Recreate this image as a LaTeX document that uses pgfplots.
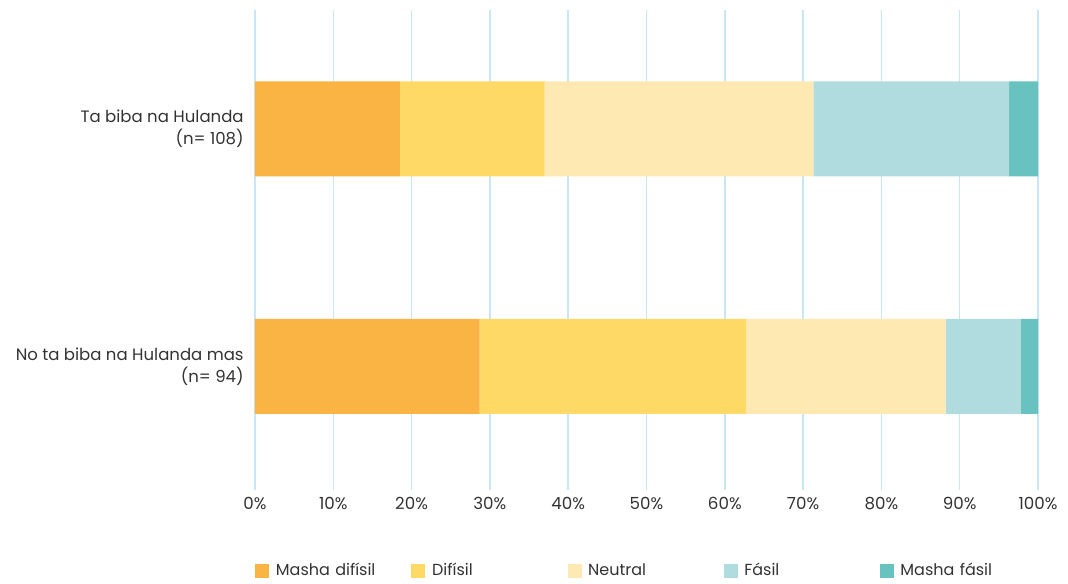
\documentclass[border=0pt]{standalone}
\usepackage{pgfplots}
\pgfplotsset{compat=1.18}
\usepackage{fontspec}
\setmainfont{Poppins}
\definecolor{c1}{HTML}{F9B444}
\definecolor{c2}{HTML}{FFD966}
\definecolor{c3}{HTML}{FFE9B3}
\definecolor{c4}{HTML}{B0DCE0}
\definecolor{c5}{HTML}{68C2C0}
\definecolor{gridc}{HTML}{C8E6F6}
\definecolor{txt}{HTML}{333333}

\begin{document}
\begin{tikzpicture}
\begin{axis}[
    name=ax,
    xbar stacked,
    bar width=71.25pt,
    scale only axis,
    width=587.25pt, height=360pt,
    xmin=0, xmax=100,
    ymin=-0.52, ymax=1.5,
    xtick={0,10,...,100},
    ytick={0,1},
    yticklabels={{No ta biba na Hulanda mas\\(n= 94)},{Ta biba na Hulanda\\(n= 108)}},
    xticklabel={\pgfmathprintnumber{\tick}\%},
    /pgf/number format/assume math mode=true,
    axis line style={draw=none},
    major tick length=0pt,
    xmajorgrids,
    grid style={color=gridc, line width=1.1pt},
    tick label style={text=txt},
    yticklabel style={align=right, xshift=-5pt, font=\fontsize{12.4}{16.5}\selectfont},
    xticklabel style={yshift=-2pt, font=\fontsize{12.5}{15}\selectfont},
    legend columns=5,
    legend cell align=left,
    legend style={at={(0,-0.16875)}, anchor=west, draw=none, inner sep=0pt,
        font=\fontsize{12}{14}\selectfont, text=txt,
        nodes={text width=96.6pt, inner xsep=5pt, text height=8.5pt, text depth=2.5pt}},
    legend image code/.code={\fill[#1] (0pt,-5.25pt) rectangle (10.5pt,5.25pt);},
]
\addplot[fill=c1, draw=none] coordinates {(28.7,0) (18.5,1)};
\addplot[fill=c2, draw=none] coordinates {(34.0,0) (18.5,1)};
\addplot[fill=c3, draw=none] coordinates {(25.5,0) (34.3,1)};
\addplot[fill=c4, draw=none] coordinates {(9.6,0) (25.0,1)};
\addplot[fill=c5, draw=none] coordinates {(2.2,0) (3.7,1)};
\legend{Masha difísil, Difísil, Neutral, Fásil, Masha fásil}
\end{axis}
\pgfresetboundingbox
\useasboundingbox ([xshift=-191.25pt,yshift=-69.75pt]ax.south west) rectangle ([xshift=609.75pt,yshift=367.5pt]ax.south west);
\end{tikzpicture}
\end{document}
